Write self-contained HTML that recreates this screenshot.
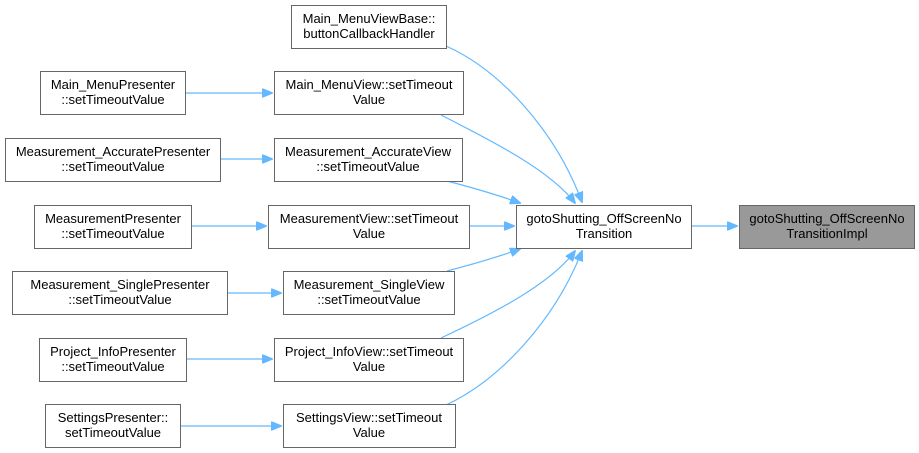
<!DOCTYPE html>
<html><head><style>body{margin:0;background:#fff}svg{display:block}text{font-family:"Liberation Sans",Arial,sans-serif;font-size:13px;fill:#000}</style></head><body>
<svg width="919" height="453" viewBox="0 0 919 453" xmlns="http://www.w3.org/2000/svg">
<defs><marker id="a" markerWidth="11" markerHeight="9" refX="10" refY="4.5" orient="auto" markerUnits="userSpaceOnUse"><path d="M0,0 L11,4.5 L0,9 z" fill="#63b8ff" stroke="#63b8ff"/></marker></defs>
<g fill="none" stroke="#63b8ff" stroke-width="1.2" marker-end="url(#a)">
<path d="M446,46 C500,70 555,130 582,202"/>
<path d="M441,115 C490,140 550,170 575,203"/>
<path d="M447,181 C470,187 495,194 520,203"/>
<path d="M469,226 L514,226"/>
<path d="M447,271 C470,265 495,258 520,249"/>
<path d="M441,338 C490,315 550,285 575,251"/>
<path d="M446,405 C500,380 555,320 582,251"/>
<path d="M691,226 L737,226"/>
<path d="M185,93 L272,93"/>
<path d="M220,159 L272,159"/>
<path d="M191,226 L266,226"/>
<path d="M227,293 L281,293"/>
<path d="M186,359 L272,359"/>
<path d="M180,426 L281,426"/>
</g>
<g stroke="#666" stroke-width="1" fill="#fff">
<rect x="291.5" y="5.5" width="155" height="43"/>
<rect x="274.5" y="71.5" width="189" height="43"/>
<rect x="274.5" y="138.5" width="188" height="43"/>
<rect x="268.5" y="205.5" width="201" height="43"/>
<rect x="283.5" y="271.5" width="171" height="43"/>
<rect x="274.5" y="338.5" width="189" height="43"/>
<rect x="283.5" y="404.5" width="172" height="43"/>
<rect x="40.5" y="71.5" width="145" height="43"/>
<rect x="5.5" y="138.5" width="215" height="43"/>
<rect x="34.5" y="205.5" width="157" height="43"/>
<rect x="12.5" y="271.5" width="215" height="43"/>
<rect x="39.5" y="338.5" width="147" height="43"/>
<rect x="45.5" y="404.5" width="135" height="43"/>
<rect x="516.5" y="205.5" width="175" height="43"/>
<rect x="739.5" y="205.5" width="175" height="43" fill="#999"/>
</g>
<g text-anchor="middle">
<text x="369" y="23">Main_MenuViewBase::</text><text x="369" y="38">buttonCallbackHandler</text>
<text x="369" y="89">Main_MenuView::setTimeout</text><text x="369" y="104">Value</text>
<text x="368" y="156">Measurement_AccurateView</text><text x="368" y="171">::setTimeoutValue</text>
<text x="369" y="223">MeasurementView::setTimeout</text><text x="369" y="238">Value</text>
<text x="369" y="289">Measurement_SingleView</text><text x="369" y="304">::setTimeoutValue</text>
<text x="369" y="356">Project_InfoView::setTimeout</text><text x="369" y="371">Value</text>
<text x="369" y="422">SettingsView::setTimeout</text><text x="369" y="437">Value</text>
<text x="113" y="89">Main_MenuPresenter</text><text x="113" y="104">::setTimeoutValue</text>
<text x="113" y="156">Measurement_AccuratePresenter</text><text x="113" y="171">::setTimeoutValue</text>
<text x="113" y="223">MeasurementPresenter</text><text x="113" y="238">::setTimeoutValue</text>
<text x="120" y="289">Measurement_SinglePresenter</text><text x="120" y="304">::setTimeoutValue</text>
<text x="113" y="356">Project_InfoPresenter</text><text x="113" y="371">::setTimeoutValue</text>
<text x="113" y="422">SettingsPresenter::</text><text x="113" y="437">setTimeoutValue</text>
<text x="604" y="223">gotoShutting_OffScreenNo</text><text x="604" y="238">Transition</text>
<text x="827" y="223">gotoShutting_OffScreenNo</text><text x="827" y="238">TransitionImpl</text>
</g>
</svg>
</body></html>
